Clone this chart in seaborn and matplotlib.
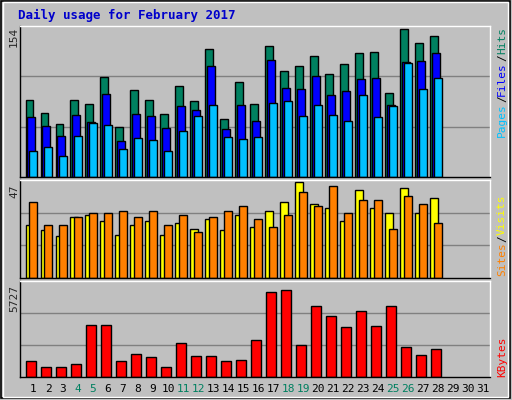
import matplotlib
matplotlib.use("Agg")
import matplotlib.pyplot as plt
import seaborn as sns
import numpy as np

sns.set_style("white")
plt.rcParams['font.family'] = ['DejaVu Sans Mono']

days = list(range(1, 32))
hits = [80, 67, 55, 80, 76, 104, 52, 91, 80, 66, 95, 79, 133, 60, 99, 76, 136, 110, 115, 126, 107, 118, 129, 130, 87, 154, 139, 147]
files = [62, 53, 43, 64, 57, 86, 37, 66, 63, 51, 74, 70, 115, 50, 75, 58, 122, 93, 92, 105, 85, 89, 102, 103, 75, 120, 121, 129]
pages = [27, 31, 22, 43, 56, 54, 29, 41, 39, 27, 48, 63, 75, 42, 40, 42, 77, 79, 63, 75, 64, 58, 85, 62, 74, 119, 92, 103]
visits = [26, 23.5, 20.4, 30, 31, 28, 21, 26, 28, 21, 27, 24, 29, 23.5, 31, 25, 33, 37, 47, 36, 34, 28, 43, 34, 32, 44, 32, 39]
sites = [37, 26, 26, 30, 32, 32, 33, 30, 33, 26, 31, 22.5, 30, 33, 35, 29, 25, 31, 42, 35, 45, 32, 38, 38, 24, 40, 36, 27]
kbytes = [945, 598, 598, 771, 3143, 3143, 1003, 1408, 1234, 598, 2044, 1292, 1292, 945, 1060, 2275, 5167, 5283, 1928, 4300, 3721, 3027, 4010, 3085, 4300, 1812, 1350, 1697]
weekend = [4, 5, 11, 12, 18, 19, 25, 26]

BG = "#C0C0C0"
W, H = 512, 400
fig = plt.figure(figsize=(5.12, 4.0), dpi=100, facecolor=BG)

def ax_px(x0, y0, x1, y1):
    return fig.add_axes([x0 / W, 1 - y1 / H, (x1 - x0) / W, (y1 - y0) / H])

d = np.arange(1, len(hits) + 1)
XL = (0.133, 31.47)

def style(ax, ymax):
    ax.set_facecolor(BG)
    ax.set_xlim(*XL)
    ax.set_ylim(0, ymax)
    for t in (1/3, 2/3):
        ax.axhline(ymax * t, color="#808080", lw=1, zorder=0)
    ax.set_xticks([]); ax.set_yticks([])
    for s in ("left", "bottom"):
        ax.spines[s].set_color("black")
    for s in ("top", "right"):
        ax.spines[s].set_color("white")
    for s in ax.spines.values():
        s.set_linewidth(1)

kw = dict(align="edge", edgecolor="black", linewidth=1, zorder=2)

ax1 = ax_px(20, 26, 490, 177)
style(ax1, max(hits) * 1.02)
ax1.bar(d - 0.5, hits, width=0.5, color="#008060", **kw)
ax1.bar(d - 0.37, files, width=0.5, color="#0000FF", **kw)
ax1.bar(d - 0.25, pages, width=0.5, color="#00C0FF", **kw)

ax2 = ax_px(20, 180, 490, 278)
style(ax2, max(max(visits), max(sites)) * 1.02)
ax2.bar(d - 0.5, visits, width=0.5, color="#FFFF00", **kw)
ax2.bar(d - 0.25, sites, width=0.5, color="#FF8000", **kw)

ax3 = ax_px(20, 281, 490, 377)
style(ax3, 5727 * 1.02)
ax3.bar(d - 0.45, kbytes, width=0.67, color="#FF0000", **kw)

fig.text(18 / W, 1 - 15 / H, "Daily usage for February 2017", color="#0000CC",
         fontsize=9, fontweight="bold", va="center", ha="left")
fig.text(14 / W, 1 - 37 / H, "154", rotation=90, fontsize=8, va="center", ha="center")
fig.text(14 / W, 1 - 191 / H, "47", rotation=90, fontsize=8, va="center", ha="center")
fig.text(14 / W, 1 - 298 / H, "5727", rotation=90, fontsize=8, va="center", ha="center")

def vlabel(y_bottom, parts):
    y = y_bottom
    for txt, col in parts:
        fig.text(502 / W, 1 - y / H, txt, rotation=90, color=col, fontsize=8,
                 va="bottom", ha="center")
        y -= len(txt) * 6.9

vlabel(137, [("Pages", "#00C0FF"), ("/", "black"), ("Files", "#0000FF"), ("/", "black"), ("Hits", "#008060")])
vlabel(276, [("Sites", "#FF8000"), ("/", "black"), ("Visits", "#FFFF00")])
vlabel(377, [("KBytes", "#FF0000")])

for dd in days:
    px = 33 + 15 * (dd - 1)
    fig.text(px / W, 1 - 389 / H, str(dd), fontsize=8, ha="center", va="center",
             color="#008060" if dd in weekend else "black")

fig.patches.append(plt.Rectangle((0.002, 0.004), 0.994, 0.994, transform=fig.transFigure,
                                 fill=False, edgecolor="black", lw=1.2))
fig.patches.append(plt.Rectangle((0.006, 0.008), 0.986, 0.986, transform=fig.transFigure,
                                 fill=False, edgecolor="white", lw=1))
fig.savefig("out.png", dpi=100, facecolor=BG)
